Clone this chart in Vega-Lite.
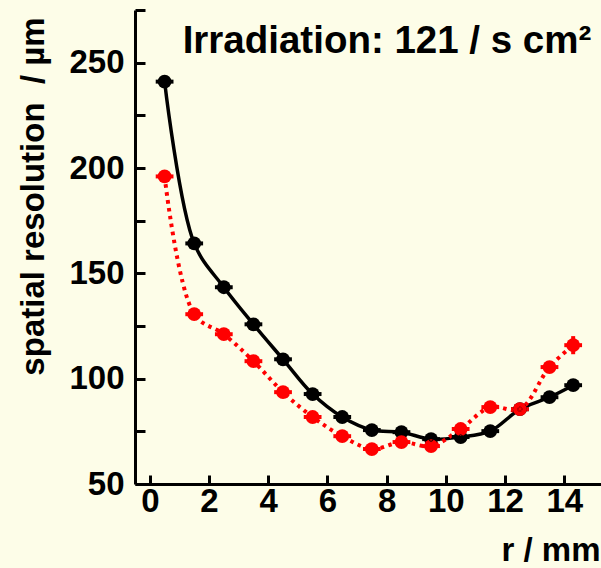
{
  "$schema": "https://vega.github.io/schema/vega-lite/v6.json",
  "width": 466,
  "height": 474,
  "autosize": {"type": "none"},
  "padding": {"left": 135, "top": 10, "right": 0, "bottom": 84},
  "background": "#fdfde8",
  "config": {
    "view": {"stroke": null},
    "axis": {"labelFont": "Liberation Sans", "titleFont": "Liberation Sans", "labelFontWeight": "bold", "titleFontWeight": "bold", "labelColor": "black", "titleColor": "black", "grid": false, "domainColor": "black", "tickColor": "black", "domainWidth": 3, "tickWidth": 3}
  },
  "data": {
    "values": [
      {"s": "A", "r": 0.5, "v": 241, "lo": 241, "hi": 241},
      {"s": "A", "r": 1.5, "v": 164.2, "lo": 164.2, "hi": 164.2},
      {"s": "A", "r": 2.5, "v": 143.4, "lo": 143.4, "hi": 143.4},
      {"s": "A", "r": 3.5, "v": 125.8, "lo": 125.8, "hi": 125.8},
      {"s": "A", "r": 4.5, "v": 109.2, "lo": 109.2, "hi": 109.2},
      {"s": "A", "r": 5.5, "v": 92.7, "lo": 92.7, "hi": 92.7},
      {"s": "A", "r": 6.5, "v": 81.8, "lo": 81.8, "hi": 81.8},
      {"s": "A", "r": 7.5, "v": 75.6, "lo": 75.6, "hi": 75.6},
      {"s": "A", "r": 8.5, "v": 74.6, "lo": 74.6, "hi": 74.6},
      {"s": "A", "r": 9.5, "v": 71.3, "lo": 71.3, "hi": 71.3},
      {"s": "A", "r": 10.5, "v": 72.3, "lo": 72.3, "hi": 72.3},
      {"s": "A", "r": 11.5, "v": 75.1, "lo": 75.1, "hi": 75.1},
      {"s": "A", "r": 12.5, "v": 85.5, "lo": 85.5, "hi": 85.5},
      {"s": "A", "r": 13.5, "v": 91.2, "lo": 91.2, "hi": 91.2},
      {"s": "A", "r": 14.3, "v": 96.9, "lo": 96.9, "hi": 96.9},
      {"s": "B", "r": 0.5, "v": 196, "lo": 196, "hi": 196},
      {"s": "B", "r": 1.5, "v": 130.6, "lo": 130.6, "hi": 130.6},
      {"s": "B", "r": 2.5, "v": 121.1, "lo": 121.1, "hi": 121.1},
      {"s": "B", "r": 3.5, "v": 108.3, "lo": 108.3, "hi": 108.3},
      {"s": "B", "r": 4.5, "v": 93.6, "lo": 93.6, "hi": 93.6},
      {"s": "B", "r": 5.5, "v": 81.8, "lo": 81.8, "hi": 81.8},
      {"s": "B", "r": 6.5, "v": 72.7, "lo": 72.7, "hi": 72.7},
      {"s": "B", "r": 7.5, "v": 66.6, "lo": 66.6, "hi": 66.6},
      {"s": "B", "r": 8.5, "v": 69.9, "lo": 69.9, "hi": 69.9},
      {"s": "B", "r": 9.5, "v": 68.0, "lo": 68.0, "hi": 68.0},
      {"s": "B", "r": 10.5, "v": 76.1, "lo": 76.1, "hi": 76.1},
      {"s": "B", "r": 11.5, "v": 86.5, "lo": 86.5, "hi": 86.5},
      {"s": "B", "r": 12.5, "v": 85.5, "lo": 85.5, "hi": 85.5},
      {"s": "B", "r": 13.5, "v": 105.5, "lo": 105.5, "hi": 105.5},
      {"s": "B", "r": 14.3, "v": 115.9, "lo": 111.6, "hi": 120.2}
    ]
  },
  "transform": [
    {"calculate": "datum.r - 0.3", "as": "rlo"},
    {"calculate": "datum.r + 0.3", "as": "rhi"}
  ],
  "encoding": {
    "x": {
      "field": "r", "type": "quantitative",
      "scale": {"domain": [-0.5, 15.24], "nice": false, "zero": false},
      "axis": {
        "values": [0, 2, 4, 6, 8, 10, 12, 14],
        "tickSize": -9,
        "labelFontSize": 33,
        "labelPadding": 10,
        "title": "r / mm",
        "titleFontSize": 33,
        "titleAlign": "right",
        "titleAnchor": "end",
        "titleX": 465,
        "titleY": 76,
        "titleBaseline": "alphabetic"
      }
    },
    "y": {
      "field": "v", "type": "quantitative",
      "scale": {"domain": [50, 275], "nice": false, "zero": false},
      "axis": {
        "values": [50, 75, 100, 125, 150, 175, 200, 225, 250, 275],
        "labelExpr": "datum.value % 50 == 0 && datum.value < 275 ? datum.label : ''",
        "tickSize": -10,
        "labelFontSize": 33,
        "labelPadding": 21,
        "title": "spatial resolution\u00a0\u00a0/ µm",
        "titleFontSize": 33,
        "titleAngle": -90,
        "titleX": -92,
        "titleY": 186,
        "titleAlign": "center",
        "titleBaseline": "alphabetic"
      }
    },
    "color": {"field": "s", "type": "nominal", "scale": {"domain": ["A", "B"], "range": ["black", "#ff0000"]}, "legend": null}
  },
  "layer": [
    {"mark": {"type": "line", "interpolate": "catmull-rom", "strokeWidth": 3.5}, "transform": [{"filter": "datum.s == 'A'"}]},
    {"mark": {"type": "line", "interpolate": "catmull-rom", "strokeWidth": 4, "strokeDash": [3.5, 4.5]}, "transform": [{"filter": "datum.s == 'B'"}]},
    {"mark": {"type": "rule", "strokeWidth": 4}, "encoding": {"x": {"field": "rlo", "type": "quantitative"}, "x2": {"field": "rhi"}}},
    {"mark": {"type": "rule", "strokeWidth": 4}, "encoding": {"y": {"field": "lo", "type": "quantitative"}, "y2": {"field": "hi"}}},
    {"mark": {"type": "point", "filled": true, "size": 190, "opacity": 1}},
    {"mark": {"type": "point", "shape": "circle", "filled": false, "size": 18, "strokeWidth": 1, "opacity": 1, "color": "#e8e8e8"}},
    {
      "data": {"values": [{"label": "Irradiation: 121 / s cm²", "lx": 1.11, "ly": 254.6}]},
      "transform": [],
      "mark": {"type": "text", "align": "left", "baseline": "alphabetic", "font": "Liberation Sans", "fontWeight": "bold", "fontSize": 38.5, "color": "black"},
      "encoding": {
        "x": {"field": "lx", "type": "quantitative"},
        "y": {"field": "ly", "type": "quantitative"},
        "text": {"field": "label"},
        "color": {"value": "black"}
      }
    }
  ]
}
